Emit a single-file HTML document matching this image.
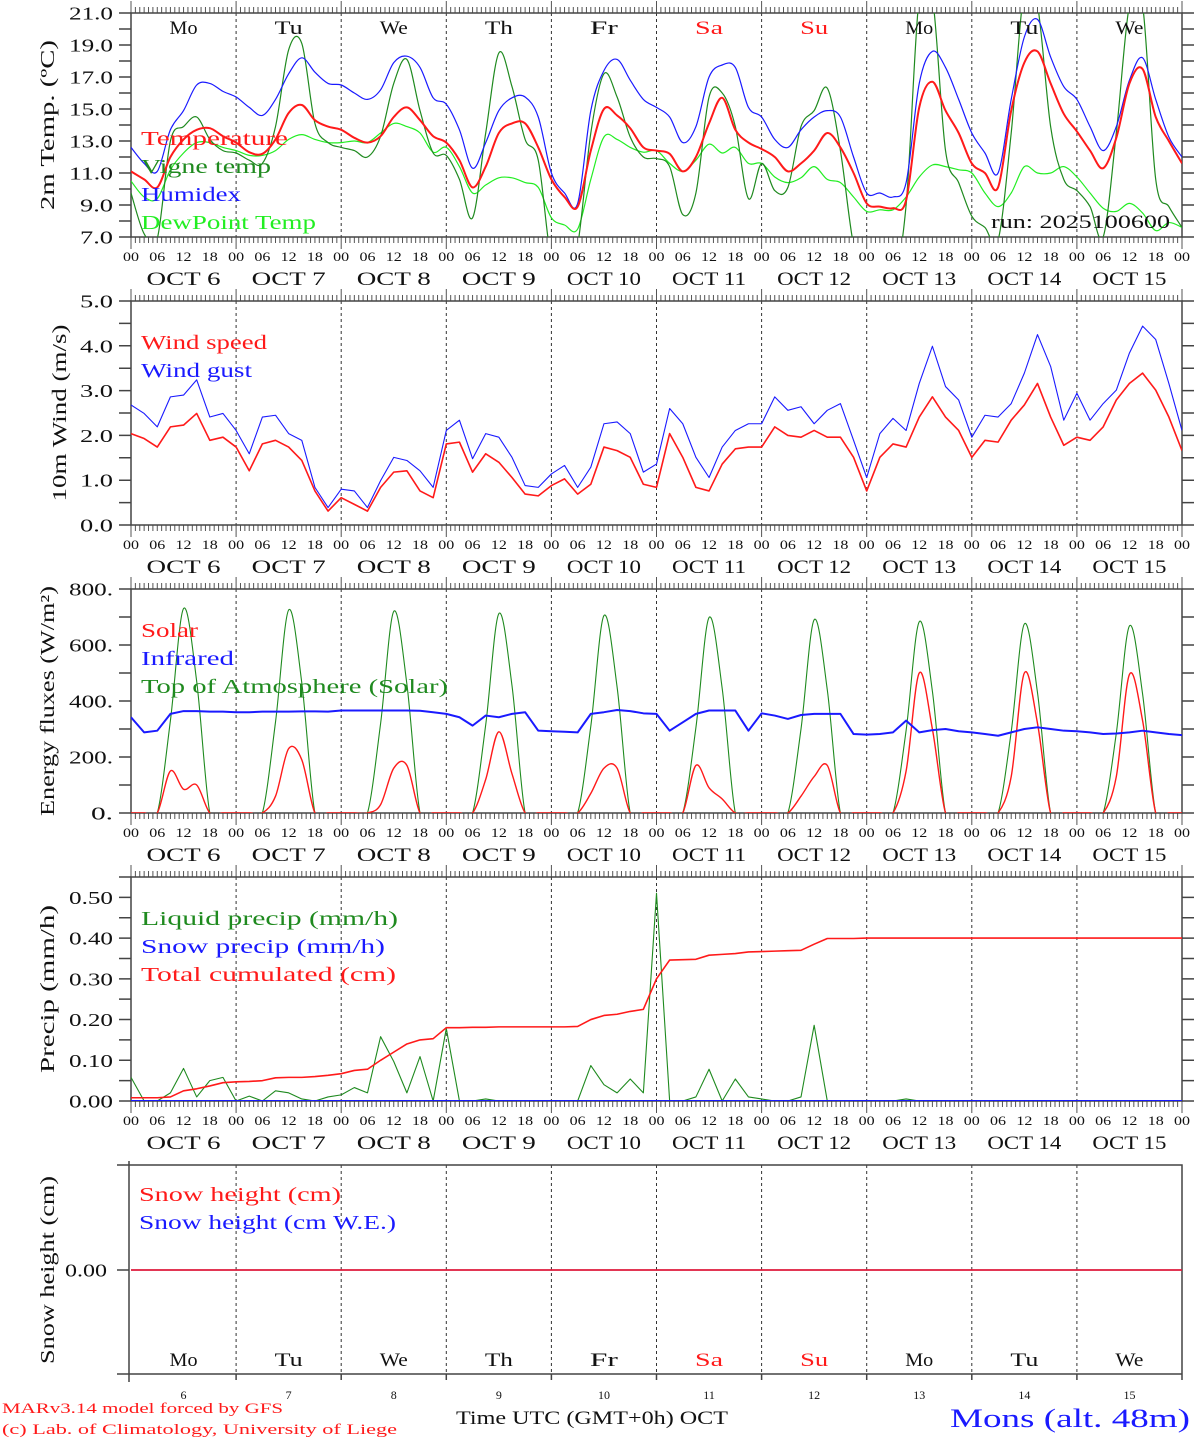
<!DOCTYPE html>
<html><head><meta charset="utf-8"><title>MAR forecast Mons</title>
<style>
html,body{margin:0;padding:0;background:#fff;}
svg{display:block;font-family:"Liberation Serif",serif;}
</style></head>
<body>
<svg id="chart" xmlns="http://www.w3.org/2000/svg" width="1194" height="1440" viewBox="0 0 1194 1440">
<rect x="0" y="0" width="1194" height="1440" fill="#fff"/>
</svg>
<script>
// ---------- DATA (3-hourly, 00 UTC Oct 6 -> 00 UTC Oct 16) ----------
const dayNames = ['Mo','Tu','We','Th','Fr','Sa','Su','Mo','Tu','We'];
const dayNums = ['6','7','8','9','10','11','12','13','14','15'];
const hourLabels = ['00','06','12','18'];
const tempTicks = ['21.0','19.0','17.0','15.0','13.0','11.0','9.0','7.0'];
const windTicks = ['5.0','4.0','3.0','2.0','1.0','0.0'];
const fluxTicks = ['800.','600.','400.','200.','0.'];
const precipTicks = ['0.50','0.40','0.30','0.20','0.10','0.00'];
const snowTicks = ['0.00'];

const temperature = [11.1,10.6,10.1,12.0,13.1,13.7,13.8,13.3, 12.9,12.3,12.2,13.1,14.75,15.25,14.3,13.9, 13.7,13.2,12.9,13.3,14.5,15.1,14.3,13.3, 12.9,11.8,10.1,11.4,13.5,14.1,14.1,12.6, 10.6,9.5,8.9,12.4,15.0,14.6,13.8,12.6, 12.4,12.2,11.1,12.0,14.1,15.7,13.7,12.9, 12.5,12.0,11.1,11.6,12.4,13.5,12.6,11.0, 9.1,8.9,8.8,9.3,15.1,16.7,14.9,13.5, 11.6,11.0,10.1,14.9,17.9,18.6,16.6,14.7, 13.6,12.4,11.3,13.2,16.6,17.5,14.5,13.0,11.6];
const humidex = [12.6,11.6,11.1,13.7,14.9,16.5,16.6,16.1, 15.75,15.1,14.6,15.6,17.2,18.2,17.3,16.6, 16.5,16.0,15.6,16.2,17.9,18.3,17.6,15.7, 15.3,13.7,11.3,12.9,14.9,15.7,15.75,14.5, 11.0,9.75,9.1,14.9,17.4,18.1,16.8,15.6, 15.1,14.5,12.9,13.9,17.0,17.75,17.6,15.1, 14.5,13.1,12.6,13.7,14.5,14.9,14.5,12.0, 9.75,9.75,9.5,10.4,16.6,18.6,17.6,15.6, 13.5,12.25,11.0,15.6,19.5,20.6,18.25,16.4, 15.6,13.9,12.4,13.9,16.8,18.2,15.6,13.25,12.0];
const dewPoint = [10.5,9.5,9.4,11.2,12.25,12.9,12.9,12.6, 12.4,12.1,12.1,12.4,13.1,13.4,13.1,12.9, 12.9,13.0,12.9,13.5,14.1,13.9,13.5,12.3, 12.6,11.4,9.75,10.25,10.7,10.7,10.4,10.1, 8.2,7.75,7.5,10.6,13.25,13.1,12.6,12.3, 12.4,11.6,11.1,11.8,12.8,12.25,12.6,11.6, 11.6,10.75,10.4,10.7,11.4,10.6,10.4,9.5, 8.6,8.7,8.7,9.5,10.75,11.5,11.4,11.2, 11.0,9.75,8.9,9.75,11.4,11.0,11.0,11.4, 10.75,9.75,8.8,8.6,9.1,8.5,7.4,7.9,7.6];
const vigneTemp = [9.75,7.2,6.9,13.0,13.9,14.5,13.1,12.4, 12.25,11.8,11.6,13.9,18.7,19.1,14.1,12.9, 12.6,12.4,12.0,13.3,16.6,18.1,14.9,12.25, 12.1,10.6,8.2,13.5,18.5,16.4,13.1,11.8, 5.5,4.5,6.5,13.5,17.2,15.75,13.25,12.0, 11.9,11.4,8.4,9.75,15.75,16.0,13.9,9.4, 11.6,9.9,10.1,13.9,14.9,16.3,12.4,6.5, 4.5,3.5,4.0,9.0,22.0,22.0,12.4,10.4, 8.3,7.6,6.8,13.5,22.5,21.5,13.9,10.6, 9.9,8.9,7.0,13.5,21.5,21.5,10.6,8.9,7.6];

const windSpeed = [2.04,1.93,1.74,2.19,2.23,2.49,1.89,1.96, 1.74,1.21,1.81,1.89,1.74,1.44,0.76,0.31, 0.61,0.46,0.31,0.84,1.18,1.21,0.76,0.61, 1.81,1.85,1.18,1.59,1.40,1.06,0.69,0.65, 0.88,1.03,0.69,0.91,1.74,1.66,1.51,0.91, 0.84,2.04,1.51,0.84,0.76,1.36,1.70,1.74, 1.74,2.19,2.0,1.96,2.11,1.96,1.96,1.51, 0.76,1.51,1.81,1.74,2.41,2.86,2.41,2.11, 1.51,1.89,1.85,2.34,2.68,3.16,2.41,1.78, 1.96,1.89,2.19,2.79,3.16,3.39,3.01,2.41,1.66];
const windGust = [2.68,2.49,2.19,2.86,2.90,3.24,2.41,2.49, 2.11,1.59,2.41,2.45,2.04,1.89,0.84,0.39, 0.80,0.76,0.39,0.99,1.51,1.44,1.21,0.84, 2.11,2.34,1.48,2.04,1.96,1.51,0.88,0.84, 1.14,1.33,0.84,1.29,2.26,2.30,2.04,1.18, 1.36,2.60,2.26,1.51,1.06,1.74,2.11,2.26, 2.26,2.86,2.56,2.64,2.26,2.56,2.71,1.89, 1.06,2.04,2.38,2.11,3.16,3.99,3.09,2.79, 1.96,2.45,2.41,2.71,3.39,4.25,3.54,2.34, 2.94,2.34,2.71,3.01,3.84,4.44,4.14,3.16,2.11];

const solarFlux = [0,0,0,150,85,100,0,0, 0,0,0,60,230,190,0,0, 0,0,0,30,160,170,0,0, 0,0,0,120,290,140,0,0, 0,0,0,70,160,160,0,0, 0,0,0,170,90,50,0,0, 0,0,0,60,130,170,0,0, 0,0,0,150,500,300,0,0, 0,0,0,130,500,320,0,0, 0,0,0,130,495,330,0,0,0];
const infraredFlux = [342,288,294,354,364,364,362,362, 360,360,362,362,362,363,363,362, 366,366,366,366,366,366,365,360, 354,342,312,348,342,354,360,294, 292,290,288,354,360,368,364,356, 354,294,324,354,366,366,366,294, 356,348,336,350,354,354,354,282, 280,282,288,330,288,296,300,292, 288,282,276,288,300,306,300,294, 292,288,282,284,288,294,288,282,278];
const toaFlux = [0,0,0,330,730,470,0,0, 0,0,0,325,725,465,0,0, 0,0,0,320,720,460,0,0, 0,0,0,315,712,455,0,0, 0,0,0,310,705,450,0,0, 0,0,0,305,698,445,0,0, 0,0,0,300,690,440,0,0, 0,0,0,295,683,435,0,0, 0,0,0,290,675,430,0,0, 0,0,0,285,668,425,0,0,0];

const liquidPrecip = [0.058,0,0,0.02,0.08,0.01,0.05,0.058, 0,0.012,0,0.025,0.02,0.005,0,0.01, 0.015,0.033,0.02,0.158,0.097,0.02,0.109,0, 0.178,0,0,0.005,0,0,0,0, 0,0,0,0.087,0.04,0.02,0.054,0.02, 0.51,0,0,0.01,0.078,0,0.054,0.01, 0.005,0,0,0.01,0.186,0,0,0, 0,0,0,0.005,0,0,0,0, 0,0,0,0,0,0,0,0, 0,0,0,0,0,0,0,0,0];
const snowPrecip = [0,0,0,0,0,0,0,0, 0,0,0,0,0,0,0,0, 0,0,0,0,0,0,0,0, 0,0,0,0,0,0,0,0, 0,0,0,0,0,0,0,0, 0,0,0,0,0,0,0,0, 0,0,0,0,0,0,0,0, 0,0,0,0,0,0,0,0, 0,0,0,0,0,0,0,0, 0,0,0,0,0,0,0,0,0];
const totalCumulated = [0.008,0.008,0.008,0.01,0.025,0.03,0.037,0.045, 0.047,0.048,0.05,0.057,0.058,0.058,0.06,0.063, 0.067,0.075,0.078,0.1,0.12,0.14,0.15,0.153, 0.18,0.18,0.181,0.181,0.182,0.182,0.182,0.182, 0.182,0.182,0.183,0.2,0.21,0.213,0.22,0.225, 0.3,0.346,0.347,0.348,0.358,0.36,0.362,0.366, 0.367,0.368,0.369,0.37,0.385,0.399,0.399,0.399, 0.4,0.4,0.4,0.4,0.4,0.4,0.4,0.4, 0.4,0.4,0.4,0.4,0.4,0.4,0.4,0.4, 0.4,0.4,0.4,0.4,0.4,0.4,0.4,0.4,0.4];
const snowHeight = [0,0,0,0,0,0,0,0, 0,0,0,0,0,0,0,0, 0,0,0,0,0,0,0,0, 0,0,0,0,0,0,0,0, 0,0,0,0,0,0,0,0, 0,0,0,0,0,0,0,0, 0,0,0,0,0,0,0,0, 0,0,0,0,0,0,0,0, 0,0,0,0,0,0,0,0, 0,0,0,0,0,0,0,0,0];
const snowWE = [0,0,0,0,0,0,0,0, 0,0,0,0,0,0,0,0, 0,0,0,0,0,0,0,0, 0,0,0,0,0,0,0,0, 0,0,0,0,0,0,0,0, 0,0,0,0,0,0,0,0, 0,0,0,0,0,0,0,0, 0,0,0,0,0,0,0,0, 0,0,0,0,0,0,0,0, 0,0,0,0,0,0,0,0,0];

// ---------- LAYOUT ----------
const NS = 'http://www.w3.org/2000/svg';
const svg = document.getElementById('chart');
const X0 = 131, X1 = 1182, TOTAL_H = 240, STEP_H = 3;
const RED = '#ff1a1a', BLUE = '#1a1aff', GREEN = '#1f8a1f', LIME = '#22ee22', AX = '#444';
function xAt(h){ return X0 + h * (X1 - X0) / TOTAL_H; }
function mk(tag, attrs, parent){
  const e = document.createElementNS(NS, tag);
  for (const k in attrs) e.setAttribute(k, attrs[k]);
  (parent || svg).appendChild(e);
  return e;
}
function txt(str, x, y, size, fill, anchor, len, parent){
  const t = mk('text', {x:x, y:y, 'font-size':size, fill:fill, 'text-anchor':anchor||'start'}, parent);
  if (len) { t.setAttribute('textLength', len); t.setAttribute('lengthAdjust', 'spacingAndGlyphs'); }
  t.textContent = str;
  return t;
}
function pathFor(vals, yf, smooth){
  const p = vals.map((v,i)=>[xAt(i*STEP_H), yf(v)]);
  let d = 'M' + p[0][0].toFixed(2) + ',' + p[0][1].toFixed(2);
  for (let i=0;i<p.length-1;i++){
    if (!smooth){ d += 'L' + p[i+1][0].toFixed(2) + ',' + p[i+1][1].toFixed(2); continue; }
    const a = p[Math.max(0,i-1)], b = p[i], c = p[i+1], e = p[Math.min(p.length-1,i+2)];
    const c1x = b[0] + (c[0]-a[0])/6, c1y = b[1] + (c[1]-a[1])/6;
    const c2x = c[0] - (e[0]-b[0])/6, c2y = c[1] - (e[1]-b[1])/6;
    d += 'C' + c1x.toFixed(2)+','+c1y.toFixed(2)+' '+c2x.toFixed(2)+','+c2y.toFixed(2)+' '+c[0].toFixed(2)+','+c[1].toFixed(2);
  }
  return d;
}

const defs = mk('defs', {});

function panel(cfg){
  const g = mk('g', {});
  
  
  const top = cfg.top, bot = cfg.top + 224;
  const yf = v => bot - (v - cfg.min) / (cfg.max - cfg.min) * 224;
  const cp = mk('clipPath', {id: 'clip-' + cfg.name}, defs);
  mk('rect', {x:X0, y:top, width:X1-X0, height:224}, cp);

  for (let d=1; d<10; d++){
    const l = mk('line', {x1:xAt(d*24), x2:xAt(d*24), y1:top, y2:bot, stroke:'#333', 'stroke-width':1, 'stroke-dasharray':'3,3'}, g);
    
    
  }
  let dt = '';
  for (let h=0; h<=TOTAL_H; h++){
    const x = xAt(h).toFixed(2);
    const len = (h % 24 === 0) ? 12 : 6;
    dt += 'M'+x+','+(top-len)+'V'+top+'M'+x+','+bot+'V'+(bot+len);
  }
  const tk = mk('path', {d:dt, stroke:'#555', 'stroke-width':1, fill:'none'}, g);
  
  
  const fr = mk('rect', {x:X0, y:top, width:X1-X0, height:224, fill:'none', stroke:AX, 'stroke-width':1.5}, g);
  
  
  let yd = '';
  for (let v=cfg.min; v<=cfg.max+1e-9; v+=cfg.minor){
    const y = yf(v).toFixed(2);
    yd += 'M119,'+y+'H'+X0+'M'+X1+','+y+'H1194';
  }
  const yt = mk('path', {d:yd, stroke:AX, 'stroke-width':1.5, fill:'none'}, g);
  
  
  cfg.ticks.forEach(lbl => {
    const v = parseFloat(lbl);
    const t = txt(lbl, 113, yf(v) + 6.5, 18, '#111', 'end', lbl.length * 11, g);
    
    
  });
  for (let d=0; d<10; d++){
    hourLabels.forEach((hl, k) => {
      if (k === 0 && d > 0) return;
      const t = txt(hl, xAt(d*24 + k*6), bot + 24, 13, '#111', 'middle', 16, g);
      
      
    });
    const t2 = txt('00', xAt((d+1)*24), bot + 24, 13, '#111', 'middle', 16, g);
    
    
    const oc = txt('OCT ' + (dayNums[d].length === 1 ? ' ' : '') + dayNums[d], xAt(d*24 + 12), bot + 48, 19, '#111', 'middle', 74, g);
    
    
  }
  const yt2 = txt(cfg.title, 0, 0, 20, '#111', 'middle', cfg.titleLen, g);
  yt2.setAttribute('transform', 'translate(' + cfg.titleX + ',' + (top + 112) + ') rotate(-90)');
  
  
  const sg = mk('g', {'clip-path':'url(#clip-' + cfg.name + ')'}, g);
  cfg.series.forEach(s => {
    const p = mk('path', {d:pathFor(s.vals, yf, s.smooth), fill:'none', stroke:s.color, 'stroke-width':s.w, 'stroke-linejoin':'round'}, sg);
    
    
  });
  cfg.legend.forEach((L, i) => {
    const t = txt(L[0], 141, cfg.legendTop + i*28, 20, L[1], 'start', L[2], g);
    
    
  });
  return {g, yf, top, bot};
}

const p1 = panel({name:'temperature-panel', top:13, min:7, max:21, minor:1, ticks:tempTicks,
  title:'2m Temp. (ºC)', titleX:54, titleLen:170, legendTop:145,
  series:[
    {name:'dewpoint-line', vals:dewPoint, color:LIME, w:1.2, smooth:true},
    {name:'vigne-temp-line', vals:vigneTemp, color:GREEN, w:1.2, smooth:true},
    {name:'humidex-line', vals:humidex, color:BLUE, w:1.2, smooth:true},
    {name:'temperature-line', vals:temperature, color:RED, w:2, smooth:true}],
  legend:[['Temperature',RED,147],['Vigne temp',GREEN,130],['Humidex',BLUE,100],['DewPoint Temp',LIME,175]]});
for (let d=0; d<10; d++){
  const t = txt(dayNames[d], xAt(d*24+12), 34, 19, (d===5||d===6)?RED:'#111', 'middle', 28, p1.g);
  
  
}
const run = txt('run: 2025100600', 1170, 228, 19, '#111', 'end', 179, p1.g);



panel({name:'wind-panel', top:301, min:0, max:5, minor:0.5, ticks:windTicks,
  title:'10m Wind (m/s)', titleX:66, titleLen:177, legendTop:349,
  series:[
    {name:'wind-gust-line', vals:windGust, color:BLUE, w:1.1, smooth:false},
    {name:'wind-speed-line', vals:windSpeed, color:RED, w:1.6, smooth:false}],
  legend:[['Wind speed',RED,126],['Wind gust',BLUE,111]]});

panel({name:'energy-panel', top:589, min:0, max:800, minor:100, ticks:fluxTicks,
  title:'Energy fluxes (W/m²)', titleX:54, titleLen:230, legendTop:637,
  series:[
    {name:'toa-solar-line', vals:toaFlux, color:GREEN, w:1.1, smooth:true},
    {name:'solar-line', vals:solarFlux, color:RED, w:1.4, smooth:true},
    {name:'infrared-line', vals:infraredFlux, color:BLUE, w:2, smooth:false}],
  legend:[['Solar',RED,57],['Infrared',BLUE,93],['Top of Atmosphere (Solar)',GREEN,307]]});

panel({name:'precip-panel', top:877, min:0, max:0.55, minor:0.05, ticks:precipTicks,
  title:'Precip (mm/h)', titleX:54, titleLen:168, legendTop:925,
  series:[
    {name:'liquid-precip-line', vals:liquidPrecip, color:GREEN, w:1.1, smooth:false},
    {name:'snow-precip-line', vals:snowPrecip, color:BLUE, w:2, smooth:false},
    {name:'total-cumulated-line', vals:totalCumulated, color:RED, w:1.6, smooth:false}],
  legend:[['Liquid precip (mm/h)',GREEN,257],['Snow precip (mm/h)',BLUE,244],['Total cumulated (cm)',RED,255]]});

(function(){
  const g = mk('g', {});
  
  
  const L = 129, top = 1165, bot = 1374, y0 = 1270;
  const ys = v => y0 - v * 100;
  for (let d=1; d<10; d++){
    const l = mk('line', {x1:xAt(d*24), x2:xAt(d*24), y1:top, y2:bot, stroke:'#333', 'stroke-width':1, 'stroke-dasharray':'3,3'}, g);
    
    
  }
  let fd = 'M117,'+top+'H'+X1+'V'+bot+'M117,'+bot+'H'+X1+'M'+L+','+(top-4)+'V'+(bot+8)+'M117,'+y0+'H'+L;
  for (let d=1; d<=10; d++){ const x = xAt(d*24).toFixed(2); fd += 'M'+x+','+bot+'V'+(bot+6); }
  const fr = mk('path', {d:fd, stroke:AX, 'stroke-width':1.5, fill:'none'}, g);
  
  
  snowTicks.forEach(lbl => {
    const t = txt(lbl, 107, ys(parseFloat(lbl)) + 6.5, 18, '#111', 'end', 42, g);
    
    
  });
  const s1 = mk('path', {d:pathFor(snowWE, ys, false), fill:'none', stroke:BLUE, 'stroke-width':1.5}, g);
  
  
  const s2 = mk('path', {d:pathFor(snowHeight, ys, false), fill:'none', stroke:RED, 'stroke-width':1.5}, g);
  
  
  const yt = txt('Snow height (cm)', 0, 0, 20, '#111', 'middle', 188, g);
  yt.setAttribute('transform', 'translate(54,1270) rotate(-90)');
  
  
  const l1 = txt('Snow height (cm)', 139, 1201, 20, RED, 'start', 202, g);
  
  
  const l2 = txt('Snow height (cm W.E.)', 139, 1229, 20, BLUE, 'start', 257, g);
  
  
  for (let d=0; d<10; d++){
    const t = txt(dayNames[d], xAt(d*24+12), 1366, 19, (d===5||d===6)?RED:'#111', 'middle', 28, g);
    
    
    const n = txt(dayNums[d], xAt(d*24+12), 1399, 12, '#111', 'middle', null, g);
    
    
  }
})();

const f1 = txt('MARv3.14 model forced by GFS', 2, 1413, 15, RED, 'start', 281);


const f2 = txt('(c) Lab. of Climatology, University of Liege', 2, 1434, 15, RED, 'start', 395);


const f3 = txt('Time UTC (GMT+0h) OCT', 456, 1424, 19, '#111', 'start', 272);


const f4 = txt('Mons (alt. 48m)', 1190, 1427, 26, BLUE, 'end', 240);


</script>
</body></html>
